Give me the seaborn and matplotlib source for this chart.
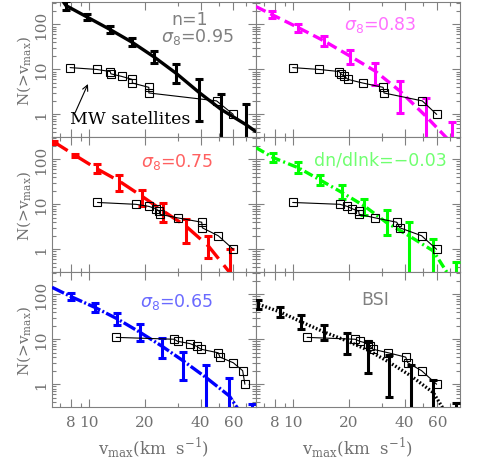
import numpy as np
import matplotlib
matplotlib.use("Agg")
import matplotlib.pyplot as plt
import seaborn as sns
from matplotlib.ticker import FixedLocator, FixedFormatter, NullFormatter, LogLocator

# ================= DATA =================
# cumulative count of MW satellites, N(>vmax)
sat_n = [11, 10, 9, 8, 7, 6, 5, 4, 3, 2, 1]

# satellite vmax, one set per panel
sat_v1 = [7.9, 11.0, 13.0, 13.1, 15.0, 17.1, 17.1, 21.0, 21.0, 48.7, 59.9]
sat_v2 = [9.95, 13.8, 17.7, 18.1, 18.9, 19.8, 23.7, 30.6, 30.9, 49.7, 59.5]
sat_v3 = [11.1, 17.9, 21.0, 22.9, 23.9, 24.1, 30.0, 40.5, 40.8, 49.7, 59.9]
sat_v4 = [9.95, 17.9, 19.6, 20.8, 22.6, 22.7, 27.7, 36.2, 37.7, 49.3, 59.4]
sat_v5 = [14.0, 28.8, 30.0, 35.0, 38.0, 40.1, 49.7, 50.8, 59.9, 67.3, 69.2]
sat_v6 = [11.9, 21.6, 22.9, 25.4, 26.0, 26.9, 32.6, 40.5, 41.5, 49.3, 59.4]

# model points with error ranges (lo / hi)
v1 = [7.5, 9.8, 13.0, 17.1, 22.4, 29.6, 39.1, 51.4, 69.8]
n1 = [264, 145, 77, 40, 19, 8.1, 3.1, 1.3, 0.6]
lo1 = [215, 123, 65, 33, 14, 5.1, 0.71, 0.01, 0.01]
hi1 = [330, 173, 92, 49, 25.5, 13.4, 6.0, 2.8, 1.67]

v2 = [7.67, 10.67, 14.7, 20.3, 27.7, 37.7, 51.9, 71.6]
n2 = [167, 85, 43, 19.8, 9.2, 3.3, 0.92, 0.23]
lo2 = [141, 67, 33, 12.9, 4.6, 1.09, 0.01, 0.01]
hi2 = [198, 105, 55, 26.8, 13.6, 5.5, 2.35, 0.67]

v3 = [6.5, 8.4, 11.0, 14.5, 19.2, 25.1, 33.2, 44.0, 57.5]
n3 = [240, 123, 62, 33, 15.3, 7.1, 3.3, 1.18, 0.3]
lo3 = [225, 115, 49, 19.8, 9.2, 4.0, 1.36, 0.65, 0.01]
hi3 = [260, 131, 77, 46, 20.8, 10.5, 4.8, 1.98, 1.0]

v4 = [7.82, 10.67, 14.0, 18.4, 24.2, 32.0, 42.3, 57.0, 75.5]
n4 = [109, 65, 34.7, 18.2, 9.2, 3.9, 1.98, 0.92, 0.15]
lo4 = [87, 49, 26.4, 12.9, 5.7, 2.05, 0.01, 0.01, 0.01]
hi4 = [141, 87, 46, 26.4, 13.4, 7.5, 4.0, 1.73, 0.52]

v5 = [7.98, 10.8, 14.1, 18.7, 24.6, 32.2, 42.7, 57.0, 75.2]
n5 = [89, 50.6, 28.8, 14.5, 7.1, 3.3, 1.41, 0.55, 0.1]
lo5 = [75, 40, 20.5, 9.2, 3.9, 1.25, 0.01, 0.01, 0.01]
hi5 = [109, 65, 39, 21.5, 10.9, 5.2, 2.64, 1.34, 0.36]

v6 = [6.5, 8.5, 11.1, 14.7, 19.5, 25.4, 32.9, 43.2, 57.0, 75.5]
n6 = [60, 40.5, 24.2, 14.5, 9.2, 5.7, 3.1, 1.53, 0.65, 0.1]
lo6 = [48, 32, 17.3, 9.6, 4.6, 1.82, 0.53, 0.01, 0.01, 0.01]
hi6 = [75, 51, 34, 20.5, 13.6, 8.7, 4.4, 2.64, 1.25, 0.39]

# model curves (points plus the ends where they leave the frame)
cv1 = [7.3, 7.5, 9.8, 13.0, 17.1, 22.4, 29.6, 39.1, 51.4, 69.8, 79.0]
cn1 = [310, 264, 145, 77, 40, 19, 8.1, 3.1, 1.3, 0.6, 0.42]
cv2 = [6.31, 7.67, 10.67, 14.7, 20.3, 27.7, 37.7, 51.9, 71.6]
cn2 = [250, 167, 85, 43, 19.8, 9.2, 3.3, 0.92, 0.23]
cv3 = [6.31, 6.5, 8.4, 11.0, 14.5, 19.2, 25.1, 33.2, 44.0, 57.5]
cn3 = [255, 240, 123, 62, 33, 15.3, 7.1, 3.3, 1.18, 0.3]
cv4 = [6.31, 7.82, 10.67, 14.0, 18.4, 24.2, 32.0, 42.3, 57.0, 75.5]
cn4 = [182, 109, 65, 34.7, 18.2, 9.2, 3.9, 1.98, 0.92, 0.15]
cv5 = [6.31, 7.98, 10.8, 14.1, 18.7, 24.6, 32.2, 42.7, 57.0, 75.2]
cn5 = [143, 89, 50.6, 28.8, 14.5, 7.1, 3.3, 1.41, 0.55, 0.1]
cv6 = [6.5, 8.5, 11.1, 14.7, 19.5, 25.4, 32.9, 43.2, 57.0, 75.5]
cn6 = [60, 40.5, 24.2, 14.5, 9.2, 5.7, 3.1, 1.53, 0.65, 0.1]

labels = [r"$\sigma_{\mathregular{8}}$=0.95", r"$\sigma_{\mathregular{8}}$=0.83",
          r"$\sigma_{\mathregular{8}}$=0.75", "dn/dlnk=\u22120.03",
          r"$\sigma_{\mathregular{8}}$=0.65", "BSI"]

xtick_vals = [8, 10, 20, 40, 60]
xtick_labels = ["8", "10", "20", "40", "60"]
xminor_vals = [6, 7, 9, 30, 50, 70]
ytick_vals = [1, 10, 100]
ytick_labels = ["1", "10", "100"]

# ================= STYLE =================
sns.set_style("ticks")
plt.rcParams["font.family"] = ["DejaVu Serif"]
plt.rcParams["mathtext.fontset"] = "dejavusans"

GREY = "#808080"
TXT = "#707070"

panels = [
    dict(v=v1, n=n1, lo=lo1, hi=hi1, cv=cv1, cn=cn1, sv=sat_v1,
         color="black", ls="-", tcolor=GREY, pos=(0.711, 0.745)),
    dict(v=v2, n=n2, lo=lo2, hi=hi2, cv=cv2, cn=cn2, sv=sat_v2,
         color="#ff00ff", ls=(0, (3.2, 1.6)), tcolor="#ff70ff", pos=(0.608, 0.835)),
    dict(v=v3, n=n3, lo=lo3, hi=hi3, cv=cv3, cn=cn3, sv=sat_v3,
         color="#ff0000", ls=(0, (5.5, 2.5)), tcolor="#ff6060", pos=(0.611, 0.824)),
    dict(v=v4, n=n4, lo=lo4, hi=hi4, cv=cv4, cn=cn4, sv=sat_v4,
         color="#00ff00", ls=(0, (2.8, 1.0, 0.6, 1.0)), tcolor="#70ff70", pos=(0.608, 0.836)),
    dict(v=v5, n=n5, lo=lo5, hi=hi5, cv=cv5, cn=cn5, sv=sat_v5,
         color="#0000ff", ls=(0, (4.0, 0.7, 0.6, 0.7)), tcolor="#6a6aff", pos=(0.611, 0.786)),
    dict(v=v6, n=n6, lo=lo6, hi=hi6, cv=cv6, cn=cn6, sv=sat_v6,
         color="black", ls=(0, (0.5, 0.6)), tcolor=GREY, pos=(0.583, 0.798)),
]

fig = plt.figure(figsize=(4.85, 4.6), dpi=100)
col_x = [52 / 485, 256 / 485]
row_y = [0.7002, 0.4070, 0.1137]
w, h = 204 / 485, 134.9 / 460

for i, p in enumerate(panels):
    row, col = i // 2, i % 2
    ax = fig.add_axes([col_x[col], row_y[row], w, h])
    ax.set_xscale("log")
    ax.set_yscale("log")

    v = np.array(p["v"]); n = np.array(p["n"])
    yerr = [n - np.array(p["lo"]), np.array(p["hi"]) - n]
    ax.errorbar(v, n, yerr=yerr, fmt="none", ecolor=p["color"],
                elinewidth=2.2, capsize=2.6, capthick=2.2, zorder=3)
    ax.plot(p["cv"], p["cn"], color=p["color"], lw=2.4, linestyle=p["ls"], zorder=3)

    sns.lineplot(x=p["sv"], y=sat_n, ax=ax, color="black", lw=0.8,
                 marker="s", markersize=5.6, markerfacecolor="none",
                 markeredgecolor="black", markeredgewidth=0.8,
                 estimator=None, sort=False, zorder=4)

    ax.set_xlim(10 ** 0.8, 10 ** 1.9)
    ax.set_ylim(10 ** -0.5, 10 ** 2.5)

    ax.xaxis.set_major_locator(FixedLocator(xtick_vals))
    ax.xaxis.set_minor_locator(FixedLocator(xminor_vals))
    ax.xaxis.set_minor_formatter(NullFormatter())
    ax.yaxis.set_major_locator(FixedLocator(ytick_vals))
    ax.yaxis.set_minor_locator(LogLocator(subs=np.arange(2, 10)))
    ax.yaxis.set_minor_formatter(NullFormatter())

    if row == 2:
        ax.xaxis.set_major_formatter(FixedFormatter(xtick_labels))
        ax.set_xlabel(r"v$_{\mathregular{max}}$(km  s$^{\mathregular{-1}}$)",
                      color=TXT, fontsize=12)
        ax.xaxis.set_label_coords(0.5, -0.2)
    else:
        ax.xaxis.set_major_formatter(NullFormatter())
    if col == 0:
        ax.yaxis.set_major_formatter(FixedFormatter(ytick_labels))
        ax.set_ylabel(r"N(>v$_{\mathregular{max}}$)", color=TXT, fontsize=11)
        ax.yaxis.set_label_coords(-0.09, 0.5)
    else:
        ax.yaxis.set_major_formatter(NullFormatter())

    ax.tick_params(which="both", direction="in", top=True, right=True,
                   color=GREY, width=0.8, labelcolor=TXT, labelsize=11)
    ax.tick_params(which="major", length=6)
    ax.tick_params(which="minor", length=3)
    ax.tick_params(axis="x", pad=6)
    ax.tick_params(axis="y", labelrotation=90, pad=3)
    plt.setp(ax.get_yticklabels(), va="center")
    for s in ax.spines.values():
        s.set_color(GREY)
        s.set_linewidth(0.8)

    ax.text(p["pos"][0], p["pos"][1], labels[i], transform=ax.transAxes,
            ha="center", va="center", color=p["tcolor"], fontsize=12.5,
            family="DejaVu Sans")
    if i == 0:
        ax.text(0.676, 0.875, "n=1", transform=ax.transAxes, ha="center",
                va="center", color=GREY, fontsize=12.5, family="DejaVu Sans")
        ax.text(0.382, 0.135, "MW satellites", transform=ax.transAxes,
                ha="center", va="center", color="black", fontsize=12.5)
        ax.annotate("", xy=(10.0, 5.4), xytext=(8.3, 0.97),
                    arrowprops=dict(arrowstyle="->", color="black", lw=0.8))

fig.savefig("out.png", dpi=100, facecolor="white")
